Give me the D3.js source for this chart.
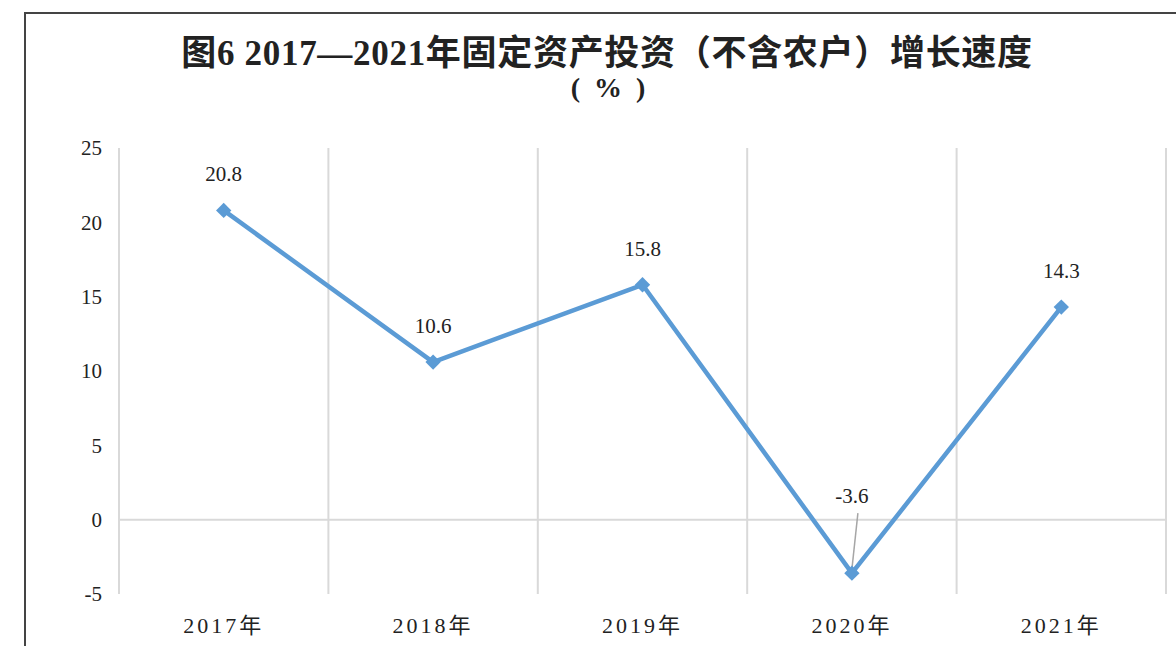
<!DOCTYPE html>
<html>
<head>
<meta charset="utf-8">
<script src="https://cdn.jsdelivr.net/npm/d3@7"></script>
<style>
  body { margin: 0; background: #fff; }
  svg text { font-family: "Liberation Serif", "Noto Sans CJK SC", serif; fill: #222; }
</style>
</head>
<body>
<div id="chart"></div>
<script>
var years = ["2017年", "2018年", "2019年", "2020年", "2021年"];
var growth = [20.8, 10.6, 15.8, -3.6, 14.3];
var yTicks = [-5, 0, 5, 10, 15, 20, 25];

var width = 1176, height = 646;

var svg = d3.select("#chart")
    .append("svg")
    .attr("width", width)
    .attr("height", height);

// outer frame
svg.append("rect")
    .attr("x", 25).attr("y", 13)
    .attr("width", 1170).attr("height", 660)
    .style("fill", "none")
    .style("stroke", "#444")
    .style("stroke-width", 2);

// title
svg.append("text")
    .attr("x", 607).attr("y", 65)
    .attr("text-anchor", "middle")
    .style("font-size", "35px")
    .style("font-weight", "bold")
    .style("letter-spacing", "0.7px")
    .text("图6 2017—2021年固定资产投资（不含农户）增长速度");

svg.append("text")
    .attr("x", 608).attr("y", 97)
    .attr("text-anchor", "middle")
    .style("font-size", "28px")
    .style("font-weight", "bold")
    .attr("xml:space", "preserve")
    .style("white-space", "pre")
    .text("(  %  )");

var xScale = d3.scaleBand()
    .domain(years)
    .range([119, 1166])
    .padding(0);

var yScale = d3.scaleLinear()
    .domain([-5, 25])
    .range([594, 148]);

// vertical grid lines at category boundaries
var bounds = years.map(function (d) { return xScale(d); }).concat([xScale.range()[1]]);
svg.selectAll("vgrid")
    .data(bounds)
    .enter()
    .append("line")
    .attr("x1", function (d) { return d; })
    .attr("x2", function (d) { return d; })
    .attr("y1", yScale(25))
    .attr("y2", yScale(-5))
    .style("stroke", "#d9d9d9")
    .style("stroke-width", 2);

// zero line
svg.append("line")
    .attr("x1", xScale.range()[0])
    .attr("x2", xScale.range()[1])
    .attr("y1", yScale(0))
    .attr("y2", yScale(0))
    .style("stroke", "#d9d9d9")
    .style("stroke-width", 2);

// y axis
var yAxis = svg.append("g")
    .attr("transform", "translate(112,0)")
    .call(d3.axisLeft(yScale)
        .tickValues(yTicks)
        .tickFormat(function (d) { return String(d); })
        .tickSize(0)
        .tickPadding(10));
yAxis.select(".domain").remove();
yAxis.selectAll("text")
    .style("font-size", "21px")
    .style("font-family", "Liberation Serif, serif")
    .style("fill", "#222");

// x labels
svg.selectAll("xlab")
    .data(years)
    .enter()
    .append("text")
    .attr("x", function (d) { return xScale(d) + xScale.bandwidth() / 2; })
    .attr("y", 633)
    .attr("text-anchor", "middle")
    .style("font-size", "22px")
    .style("letter-spacing", "3px")
    .text(function (d) { return d; });

var points = years.map(function (d, i) {
    return { year: d, value: growth[i] };
});

var line = d3.line()
    .x(function (d) { return xScale(d.year) + xScale.bandwidth() / 2; })
    .y(function (d) { return yScale(d.value); });

svg.append("path")
    .datum(points)
    .attr("d", line)
    .style("fill", "none")
    .style("stroke", "#5b9bd5")
    .style("stroke-width", 4.5)
    .style("stroke-linejoin", "round");

// leader line for the negative value
var neg = points[3];
svg.append("line")
    .attr("x1", xScale(neg.year) + xScale.bandwidth() / 2 + 6)
    .attr("y1", yScale(neg.value) - 60)
    .attr("x2", xScale(neg.year) + xScale.bandwidth() / 2)
    .attr("y2", yScale(neg.value) - 4)
    .style("stroke", "#a6a6a6")
    .style("stroke-width", 1.5);

svg.selectAll("marker")
    .data(points)
    .enter()
    .append("path")
    .attr("d", d3.symbol().type(d3.symbolDiamond2).size(150))
    .attr("transform", function (d) {
        return "translate(" + (xScale(d.year) + xScale.bandwidth() / 2) + "," + yScale(d.value) + ")";
    })
    .style("fill", "#5b9bd5");

// data labels
svg.selectAll("dlab")
    .data(points)
    .enter()
    .append("text")
    .attr("x", function (d) { return xScale(d.year) + xScale.bandwidth() / 2; })
    .attr("y", function (d) {
        return d.value < 0 ? yScale(d.value) - 70 : yScale(d.value) - 29;
    })
    .attr("text-anchor", "middle")
    .style("font-size", "21px")
    .text(function (d) { return d.value.toFixed(1); });
</script>
</body>
</html>
